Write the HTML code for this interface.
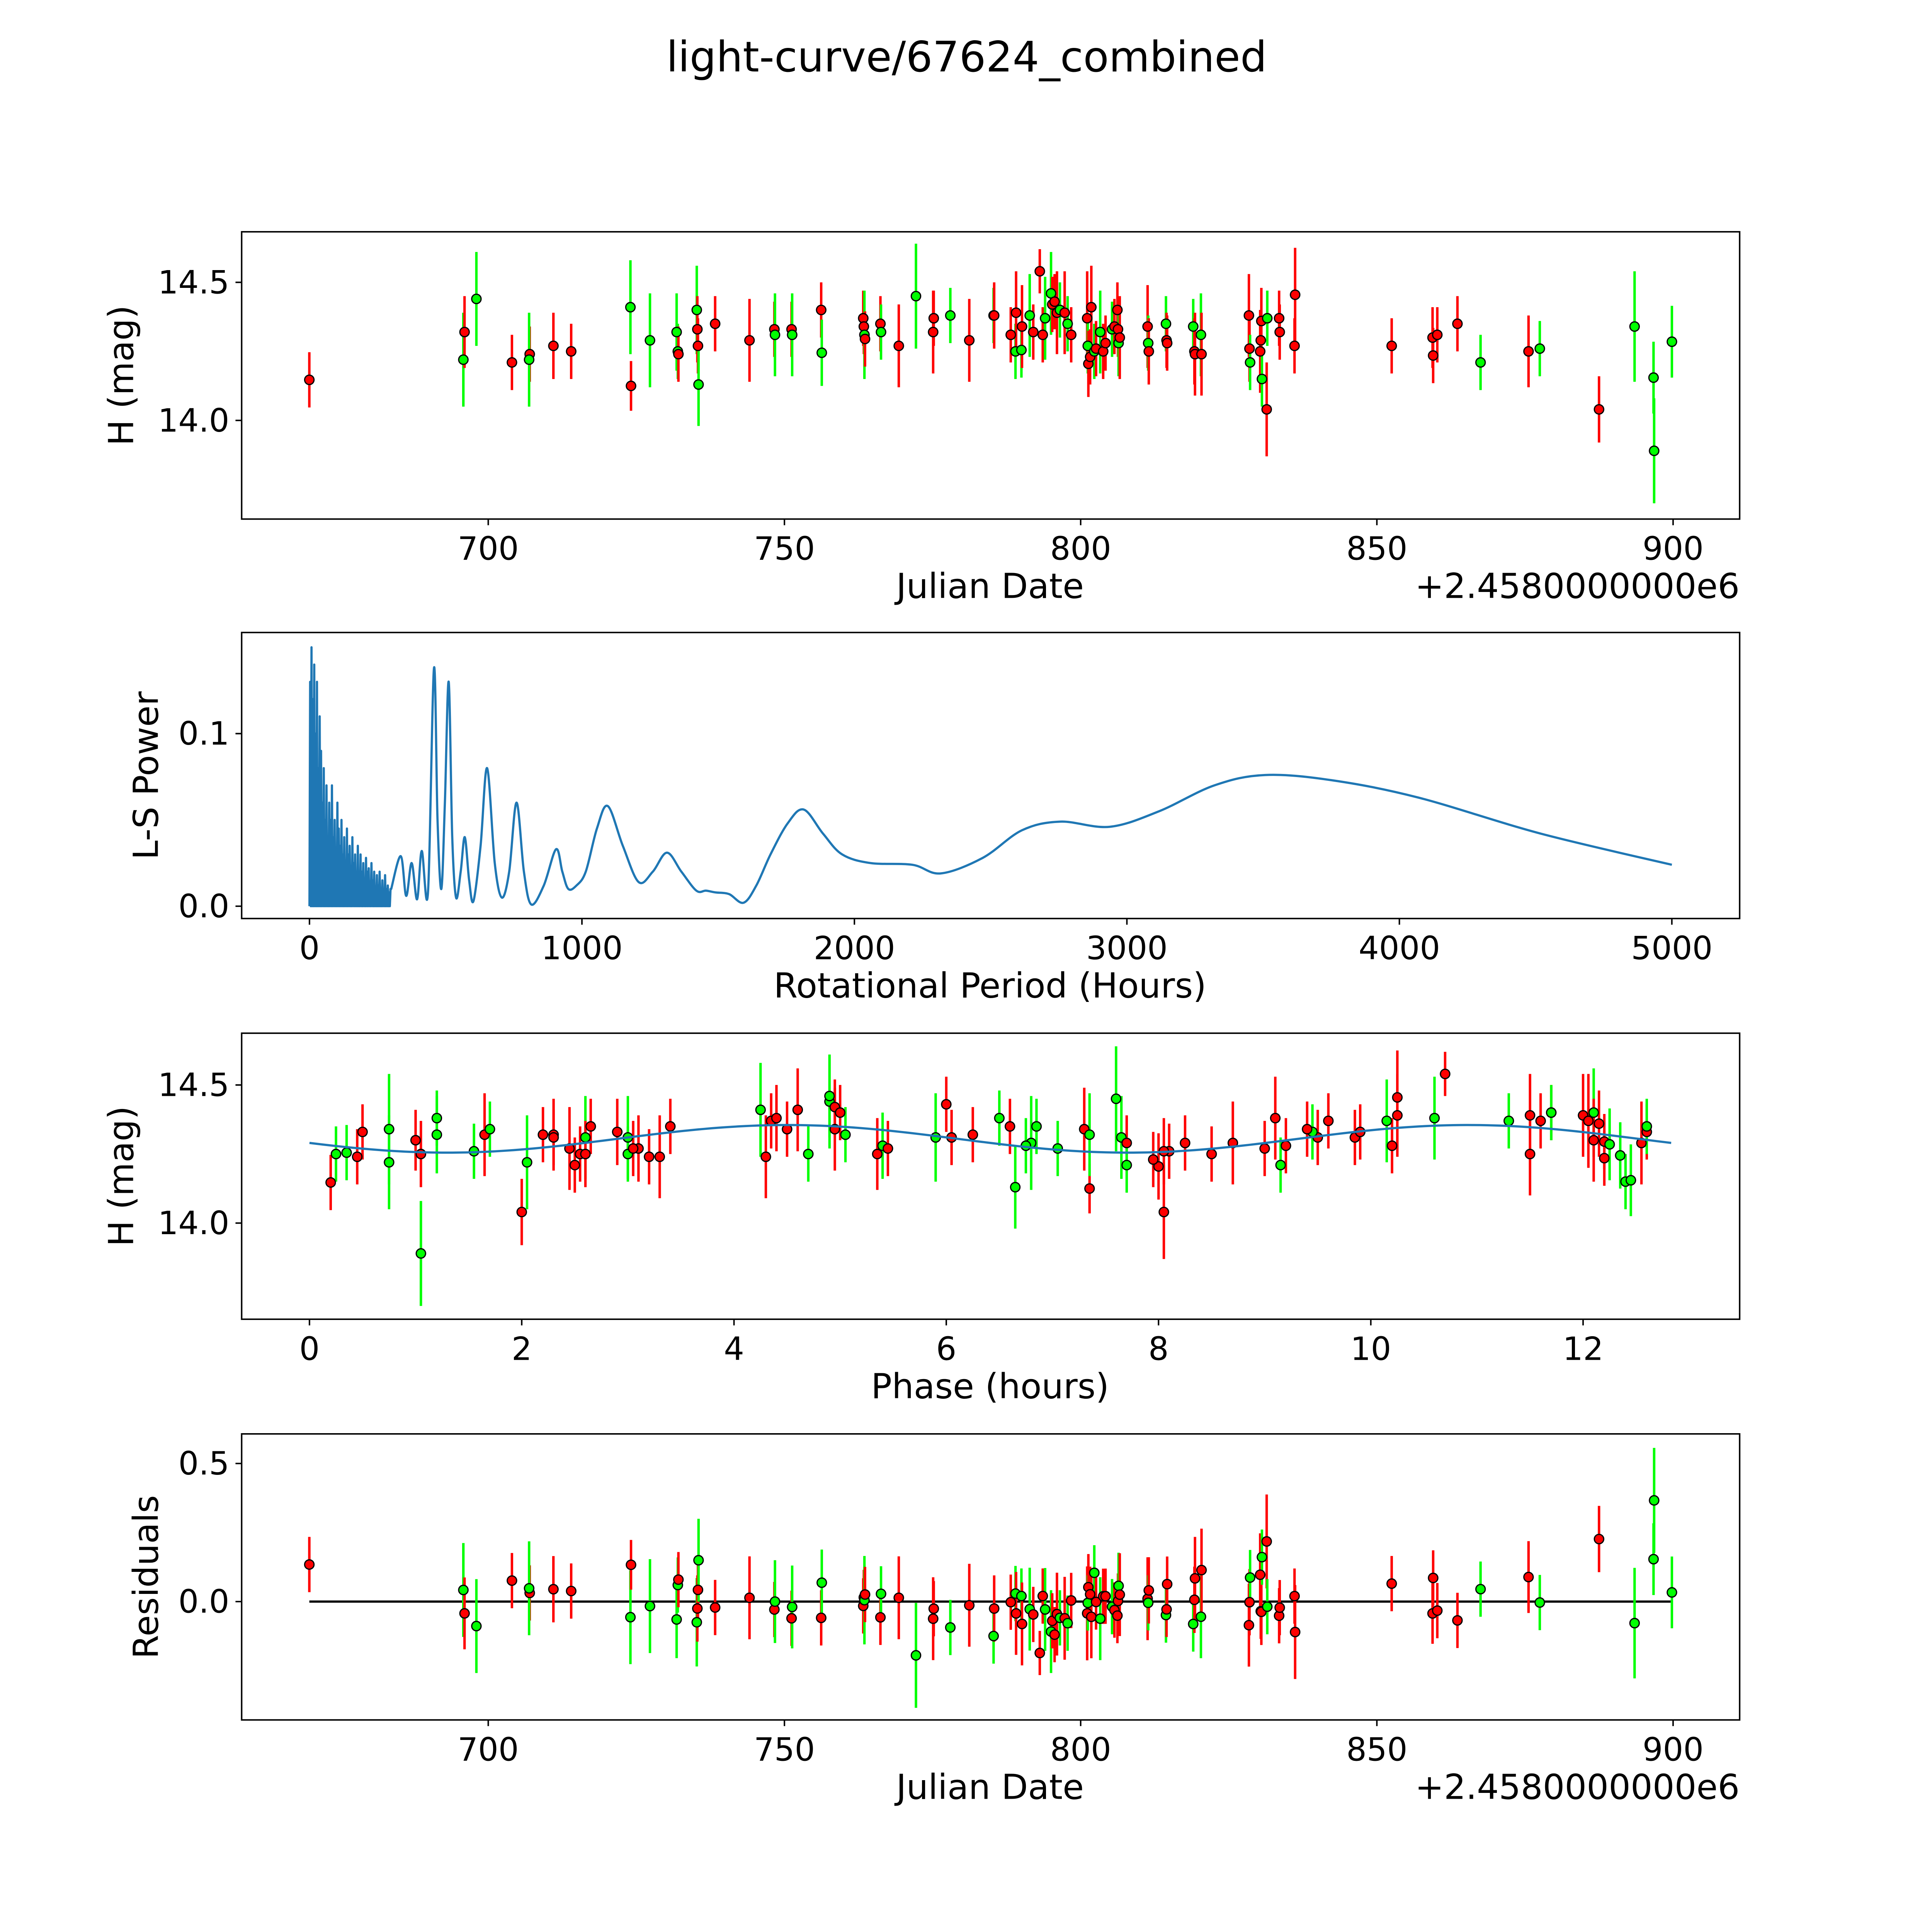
<!DOCTYPE html>
<html><head><meta charset="utf-8"><style>html,body{margin:0;padding:0;background:#fff;width:100%;height:100%;overflow:hidden}svg{display:block;width:100vw;height:100vh}text{font-family:"DejaVu Sans","Liberation Sans",sans-serif;fill:#000}</style></head>
<body>
<svg id="fig" xmlns="http://www.w3.org/2000/svg" viewBox="0 0 1567 1567" preserveAspectRatio="xMinYMin meet">
<rect x="0" y="0" width="1567" height="1567" fill="#fff"/>
<text x="784" y="58" font-size="34" text-anchor="middle">light-curve/67624_combined</text>
</svg>
<script>
// ---------- data ----------
const jd = [669.8,695.8,696,698,704,707,706.9,711,714,724,724.1,727.3,731.8,732,732.1,735.2,735.3,735.4,735.5,738.3,744.1,748.3,748.4,751.2,751.3,756.2,756.3,763.3,763.4,763.5,763.6,766.2,766.3,769.3,772.2,775.1,775.2,778,781.2,785.3,785.4,788.2,789,789.1,790,790.1,791.4,792,793.1,793.6,794,795,795.2,795.6,796,796.5,797.3,797.8,798.4,801.1,801.2,801.3,801.6,801.8,802.3,802.6,803.3,803.8,804.2,805.3,805.7,806.2,806.3,806.4,806.6,811.3,811.4,811.5,814.4,814.5,814.6,819,819.2,819.3,820.3,820.4,828.4,828.5,828.6,830.3,830.4,830.5,830.6,831.4,831.5,833.5,833.6,836.1,836.2,852.5,859.4,859.5,860.2,863.6,867.5,875.6,877.5,887.5,893.5,896.7,896.8,899.8];
const mag = [14.147,14.22,14.32,14.44,14.21,14.24,14.22,14.27,14.25,14.41,14.125,14.29,14.32,14.25,14.24,14.40,14.33,14.27,14.13,14.35,14.29,14.33,14.31,14.33,14.31,14.40,14.245,14.37,14.34,14.31,14.295,14.35,14.32,14.27,14.45,14.32,14.37,14.38,14.29,14.38,14.38,14.31,14.25,14.39,14.255,14.34,14.38,14.32,14.54,14.31,14.37,14.46,14.42,14.43,14.39,14.40,14.39,14.35,14.31,14.37,14.27,14.205,14.23,14.41,14.25,14.26,14.32,14.25,14.28,14.33,14.34,14.40,14.33,14.28,14.30,14.34,14.28,14.25,14.35,14.29,14.28,14.34,14.25,14.24,14.31,14.24,14.38,14.26,14.21,14.25,14.29,14.36,14.15,14.04,14.37,14.37,14.32,14.27,14.455,14.27,14.30,14.235,14.31,14.35,14.21,14.25,14.26,14.04,14.34,14.155,13.89,14.285];
const band = "rgrgrrgrrgrgggrgrrgrrrgrgrgrrgrrgrgrrgrgrrgrgrgrrrggrrrgrgrrgrrrgrgrrgrrrgrrgrgrrgrrgrrrgrrrgrgrrrrrrrrrgrgr";
const err = [0.1,0.17,0.13,0.17,0.1,0.1,0.17,0.12,0.1,0.17,0.09,0.17,0.14,0.1,0.1,0.16,0.12,0.1,0.15,0.1,0.15,0.1,0.15,0.1,0.15,0.1,0.12,0.1,0.1,0.16,0.1,0.1,0.1,0.15,0.19,0.15,0.1,0.1,0.15,0.1,0.12,0.1,0.1,0.15,0.1,0.15,0.15,0.1,0.08,0.1,0.15,0.15,0.1,0.1,0.15,0.1,0.15,0.1,0.1,0.17,0.1,0.12,0.1,0.15,0.1,0.1,0.15,0.1,0.1,0.1,0.1,0.1,0.1,0.12,0.15,0.15,0.1,0.12,0.1,0.1,0.1,0.1,0.12,0.15,0.15,0.15,0.15,0.12,0.1,0.15,0.1,0.12,0.1,0.17,0.1,0.1,0.1,0.1,0.17,0.1,0.11,0.1,0.1,0.1,0.1,0.13,0.1,0.12,0.2,0.13,0.19,0.13];
const phase = [0.2,0.75,2.3,4.9,2.5,0.45,2.05,3.1,2.55,4.25,7.35,6.8,1.2,3.0,3.2,12.1,2.9,3.05,6.65,3.4,12.55,12.6,3.0,0.5,2.6,11.7,12.35,4.35,4.5,5.9,12.2,2.65,5.05,2.45,7.6,1.65,11.6,6.5,8.7,1.2,4.4,6.05,0.25,11.5,0.35,7.3,10.6,2.2,10.7,9.85,10.15,4.9,4.95,6.0,10.25,11.7,12.0,6.85,9.5,12.05,7.05,8.0,7.95,4.6,4.7,8.1,7.35,8.5,9.2,9.45,9.4,5.0,9.9,5.4,12.1,4.95,6.75,2.6,12.6,8.25,10.2,1.7,1.05,3.3,7.65,4.3,9.1,8.05,9.15,11.5,7.7,12.15,12.4,8.05,11.3,9.6,6.25,9.0,10.25,5.45,1.0,12.2,2.3,6.6,7.7,5.35,1.55,2.0,0.75,12.45,1.05,12.25];
const perPeakP = [300,335,355,375,395,412,435,457,470,484,497,511,524,538,555,570,586,602,628,652,680,706,733,760,787,814,860,905,928,950,980,1014,1055,1095,1150,1208,1260,1312,1365,1420,1455,1490,1540,1593,1640,1692,1755,1814,1885,1955,2059,2213,2317,2471,2615,2756,2937,3118,3321,3507,3751,4068,4520,5000];
const perPeakV = [0.01,0.029,0.006,0.025,0.004,0.032,0.008,0.138,0.05,0.01,0.06,0.13,0.04,0.005,0.02,0.04,0.015,0.003,0.035,0.08,0.025,0.005,0.02,0.06,0.02,0.001,0.012,0.033,0.02,0.01,0.012,0.02,0.045,0.058,0.035,0.014,0.02,0.031,0.02,0.009,0.009,0.008,0.007,0.002,0.012,0.03,0.048,0.056,0.042,0.03,0.025,0.024,0.019,0.028,0.044,0.049,0.046,0.055,0.07,0.076,0.073,0.063,0.042,0.024];
const spikeV = [0.13,0.15,0.12,0.14,0.10,0.13,0.08,0.11,0.09,0.06,0.08,0.05,0.07,0.04,0.06,0.05,0.07,0.04,0.05,0.03,0.06,0.045,0.035,0.05,0.03,0.04,0.025,0.045,0.03,0.035,0.02,0.04,0.025,0.03,0.02,0.035,0.018,0.03,0.02,0.025,0.015,0.028,0.02,0.022,0.012,0.025,0.015,0.02,0.01,0.018,0.012,0.02,0.01,0.015,0.008,0.018,0.01,0.012,0.008,0.01];
const fitMean = 14.305, fitAmp = 0.05, fitPeriod = 12.83, fitPhase0 = 2.9, fitEnd = 12.83;
const jdTicks = [700,750,800,850,900];
const magTicks = [14.0,14.5];
const perTicks = [0,1000,2000,3000,4000,5000];
const powTicks = [0.0,0.1];
const phTicks = [0,2,4,6,8,10,12];
const resTicks = [0.0,0.5];

// ---------- helpers ----------
const svg = document.getElementById('fig');
const NS = 'http://www.w3.org/2000/svg';
function mk(tag, attrs, parent){const e=document.createElementNS(NS,tag);for(const k in attrs)e.setAttribute(k,attrs[k]);(parent||svg).appendChild(e);return e;}
function lin(d0,d1,p0,p1){return v=>p0+(v-d0)*(p1-p0)/(d1-d0);}
function model(p){return fitMean+fitAmp*Math.sin(4*Math.PI*(p-fitPhase0)/fitPeriod);}
const L=196,R=1411;
function axes(name,top,bot,xs,ys,xt,yt,xfmt,yfmt,xlabel,ylabel,ylx,offset){
  const g=mk('g',{});
  
  
  const fr=mk('rect',{x:L,y:top,width:R-L,height:bot-top,fill:'none',stroke:'#000','stroke-width':1.2},g);
  
  xt.forEach(v=>{const x=xs(v);mk('line',{x1:x,x2:x,y1:bot,y2:bot+5,stroke:'#000','stroke-width':1.2},g);
    const t=mk('text',{x:x,y:bot+33,'font-size':26,'text-anchor':'middle'},g);t.textContent=xfmt(v);
    });
  yt.forEach(v=>{const y=ys(v);mk('line',{x1:L-5,x2:L,y1:y,y2:y,stroke:'#000','stroke-width':1.2},g);
    const t=mk('text',{x:L-10,y:y+9,'font-size':26,'text-anchor':'end'},g);t.textContent=yfmt(v);
    });
  const xl=mk('text',{x:803,y:bot+64,'font-size':28,'text-anchor':'middle'},g);xl.textContent=xlabel;
  
  const cy=(top+bot)/2;
  const yl=mk('text',{x:ylx,y:cy,'font-size':28,'text-anchor':'middle',transform:`rotate(-90 ${ylx} ${cy})`},g);yl.textContent=ylabel;
  
  if(offset){const o=mk('text',{x:R,y:bot+64,'font-size':28,'text-anchor':'end'},g);o.textContent='+2.4580000000e6';
    }
  return g;
}
function points(g,name,xs,ys,xv,yv){
  xv.forEach((xd,i)=>{const c=band[i]==='r'?'#ff0000':'#00ff00';const x=xs(xd);
    const eb=mk('line',{x1:x,x2:x,y1:ys(yv[i]+err[i]),y2:ys(yv[i]-err[i]),stroke:c,'stroke-width':2},g);
    });
  xv.forEach((xd,i)=>{const c=band[i]==='r'?'#ff0000':'#00ff00';
    const p=mk('circle',{cx:xs(xd),cy:ys(yv[i]),r:3.8,fill:c,stroke:'#000','stroke-width':1},g);
    });
}
const f1=v=>v.toFixed(1), f0=v=>String(v);

// ---------- panel 1 ----------
{const top=188,bot=421;const xs=lin(700,900,396,1357),ys=lin(14.0,14.5,341,229);
 const g=axes('light-curve-panel',top,bot,xs,ys,jdTicks,magTicks,f0,f1,'Julian Date','H (mag)',108,true);
 points(g,'light-curve',xs,ys,jd,mag);}

// ---------- panel 2 ----------
{const top=513,bot=745;const xs=lin(0,5000,251,1356),ys=lin(0,0.1,735,595);
 const g=axes('periodogram-panel',top,bot,xs,ys,perTicks,powTicks,f0,f1,'Rotational Period (Hours)','L-S Power',128,false);
 let d='';
 spikeV.forEach((v,i)=>{const p=i*5;d+=(i?'L':'M')+xs(p).toFixed(2)+' '+ys(0).toFixed(2)+'L'+xs(p+2.5).toFixed(2)+' '+ys(v).toFixed(2);});
 const pts=perPeakP.map((p,i)=>[xs(p),ys(perPeakV[i])]);
 d+='L'+pts[0][0]+' '+pts[0][1];
 for(let i=0;i<pts.length-1;i++){const p0=pts[Math.max(0,i-1)],p1=pts[i],p2=pts[i+1],p3=pts[Math.min(pts.length-1,i+2)];
  const c1=[p1[0]+(p2[0]-p0[0])/6,p1[1]+(p2[1]-p0[1])/6],c2=[p2[0]-(p3[0]-p1[0])/6,p2[1]-(p3[1]-p1[1])/6];
  d+=`C${c1[0].toFixed(2)} ${c1[1].toFixed(2)} ${c2[0].toFixed(2)} ${c2[1].toFixed(2)} ${p2[0].toFixed(2)} ${p2[1].toFixed(2)}`;}
 const ln=mk('path',{d:d,fill:'none',stroke:'#1f77b4','stroke-width':1.8,'stroke-linejoin':'round'},g);
 }

// ---------- panel 3 ----------
{const top=838,bot=1070;const xs=lin(0,12,251,1284),ys=lin(14.0,14.5,992,880);
 const g=axes('phase-panel',top,bot,xs,ys,phTicks,magTicks,f0,f1,'Phase (hours)','H (mag)',108,false);
 points(g,'phased',xs,ys,phase,mag);
 let d='';for(let k=0;k<=200;k++){const p=fitEnd*k/200;d+=(k?'L':'M')+xs(p).toFixed(2)+' '+ys(model(p)).toFixed(2);}
 const fl=mk('path',{d:d,fill:'none',stroke:'#1f77b4','stroke-width':1.8},g);
 }

// ---------- panel 4 ----------
{const top=1163,bot=1395;const xs=lin(700,900,396,1357),ys=lin(0,0.5,1299,1187);
 const g=axes('residuals-panel',top,bot,xs,ys,jdTicks,resTicks,f0,f1,'Julian Date','Residuals',128,true);
 const zl=mk('line',{x1:xs(Math.min(...jd)),x2:xs(Math.max(...jd)),y1:ys(0),y2:ys(0),stroke:'#000','stroke-width':1.8},g);
 
 const res=mag.map((m,i)=>model(phase[i])-m);
 points(g,'residual',xs,ys,jd,res);}
</script>
</body></html>
